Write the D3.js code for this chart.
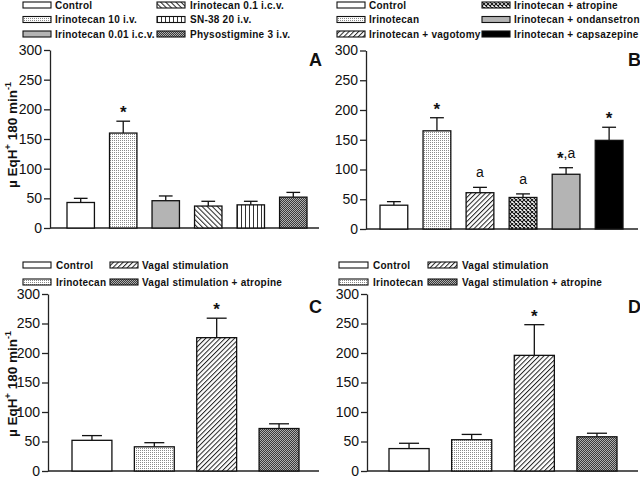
<!DOCTYPE html>
<html><head><meta charset="utf-8">
<script src="https://cdn.jsdelivr.net/npm/d3@7"></script>
<style>
body{margin:0;background:#fff;}
svg{display:block;font-family:"Liberation Sans",Arial,sans-serif;}
</style></head><body>
<svg id="chart" width="640" height="480"></svg>
<script>
// ---------- data ----------
const yTicks = [0, 50, 100, 150, 200, 250, 300];

const catsA = ["Control", "Irinotecan 10 i.v.", "Irinotecan 0.01 i.c.v.", "Irinotecan 0.1 i.c.v.", "SN-38 20 i.v.", "Physostigmine 3 i.v."];
const meanA = [43, 160, 46, 37, 39, 52];
const semA  = [7, 20, 8, 8, 6, 8];
const markA = ["", "*", "", "", "", ""];
const patA  = ["white", "dots", "gray", "back", "vert", "check"];

const catsB = ["Control", "Irinotecan", "Irinotecan + vagotomy", "Irinotecan + atropine", "Irinotecan + ondansetron", "Irinotecan + capsazepine"];
const meanB = [40, 165, 61, 53, 92, 149];
const semB  = [6, 22, 9, 6, 11, 22];
const markB = ["", "*", "a", "a", "*,a", "*"];
const patB  = ["white", "dots", "fwd", "xhatch", "gray", "black"];

const catsC = ["Control", "Irinotecan", "Vagal stimulation", "Vagal stimulation + atropine"];
const meanC = [52, 41, 226, 72];
const semC  = [8, 7, 33, 8];
const markC = ["", "", "*", ""];
const patC  = ["white", "dots", "fwd", "check"];

const catsD = ["Control", "Irinotecan", "Vagal stimulation", "Vagal stimulation + atropine"];
const meanD = [38, 53, 196, 58];
const semD  = [9, 9, 52, 6];
const markD = ["", "", "*", ""];
const patD  = ["white", "dots", "fwd", "check"];

// ---------- patterns ----------
const svg = d3.select("#chart");
const defs = svg.append("defs");
function pat(id, w, h, build, transform) {
  const p = defs.append("pattern").attr("id", id).attr("patternUnits", "userSpaceOnUse")
    .attr("width", w).attr("height", h);
  if (transform) p.attr("patternTransform", transform);
  build(p);
}
pat("p-dots", 2, 2, p => {
  p.append("rect").attr("width", 2).attr("height", 2).attr("fill", "#fff");
  p.append("rect").attr("width", 1).attr("height", 1).attr("fill", "#8a8a8a");
});
pat("p-back", 3.6, 3.6, p => {
  p.append("rect").attr("width", 3.6).attr("height", 3.6).attr("fill", "#fff");
  p.append("line").attr("x1", 0.5).attr("y1", 0).attr("x2", 0.5).attr("y2", 3.6).attr("stroke", "#222").attr("stroke-width", 1);
}, "rotate(-45)");
pat("p-fwd", 3.4, 3.4, p => {
  p.append("rect").attr("width", 3.4).attr("height", 3.4).attr("fill", "#fff");
  p.append("line").attr("x1", 0.5).attr("y1", 0).attr("x2", 0.5).attr("y2", 3.4).attr("stroke", "#222").attr("stroke-width", 1);
}, "rotate(45)");
pat("p-vert", 4, 4, p => {
  p.append("rect").attr("width", 4).attr("height", 4).attr("fill", "#fff");
  p.append("rect").attr("x", 1).attr("width", 1).attr("height", 4).attr("fill", "#333");
});
pat("p-check", 2, 2, p => {
  p.append("rect").attr("width", 2).attr("height", 2).attr("fill", "#3a3a3a");
  p.append("rect").attr("width", 1).attr("height", 1).attr("fill", "#b0b0b0");
  p.append("rect").attr("x", 1).attr("y", 1).attr("width", 1).attr("height", 1).attr("fill", "#b0b0b0");
});
pat("p-xhatch", 4, 4, p => {
  p.append("rect").attr("width", 4).attr("height", 4).attr("fill", "#fff");
  p.append("path").attr("d", "M0,0L4,4M4,0L0,4").attr("stroke", "#111").attr("stroke-width", 1.1);
});
const fills = {
  white: "#fff", gray: "#b4b4b4", black: "#000",
  dots: "url(#p-dots)", back: "url(#p-back)", fwd: "url(#p-fwd)",
  vert: "url(#p-vert)", check: "url(#p-check)", xhatch: "url(#p-xhatch)"
};

// ---------- panel ----------
function panel(cfg) {
  const g = svg.append("g");
  const x = d3.scaleBand().domain(cfg.cats).range(cfg.xr).paddingInner(cfg.pad).paddingOuter(0);
  const y = d3.scaleLinear().domain([0, 300]).range(cfg.yr);

  // x baseline
  g.append("line").attr("x1", cfg.ax).attr("x2", cfg.axEnd)
    .attr("y1", y(0)).attr("y2", y(0)).attr("stroke", "#222").attr("stroke-width", 1.3);

  // y axis
  const ya = g.append("g").attr("transform", `translate(${cfg.ax},0)`)
    .call(d3.axisLeft(y).tickValues(yTicks).tickSize(6).tickSizeOuter(0).tickPadding(2));
  ya.selectAll("path,line").attr("stroke", "#222").attr("stroke-width", 1.3);
  ya.selectAll("text").attr("font-size", 14).attr("fill", "#111")
    .attr("font-family", "'Liberation Sans',Arial,sans-serif");

  const data = cfg.cats.map((c, i) => ({ c, m: cfg.mean[i], s: cfg.sem[i], k: cfg.mark[i], p: cfg.pat[i] }));

  // error bars
  const eb = g.selectAll(".eb").data(data).enter().append("g");
  eb.append("line").attr("x1", d => x(d.c) + x.bandwidth() / 2).attr("x2", d => x(d.c) + x.bandwidth() / 2)
    .attr("y1", d => y(d.m)).attr("y2", d => y(d.m + d.s)).attr("stroke", "#111").attr("stroke-width", 1.3);
  eb.append("line").attr("x1", d => x(d.c) + x.bandwidth() / 4).attr("x2", d => x(d.c) + x.bandwidth() * 3 / 4)
    .attr("y1", d => y(d.m + d.s)).attr("y2", d => y(d.m + d.s)).attr("stroke", "#111").attr("stroke-width", 1.3);

  // bars
  g.selectAll(".bar").data(data).enter().append("rect")
    .attr("x", d => x(d.c)).attr("width", x.bandwidth())
    .attr("y", d => y(d.m)).attr("height", d => y(0) - y(d.m))
    .attr("fill", d => fills[d.p]).attr("stroke", "#111").attr("stroke-width", 1.3);

  // significance marks
  data.forEach(d => {
    if (!d.k) return;
    const cx = x(d.c) + x.bandwidth() / 2;
    const top = y(d.m + d.s);
    const t = g.append("text").attr("x", cx).attr("text-anchor", "middle").attr("fill", "#111");
    if (d.k === "*") {
      t.attr("y", top - 3).attr("font-size", 17).attr("font-weight", "bold").text("*");
    } else if (d.k === "a") {
      t.attr("y", top - 10).attr("font-size", 14).text("a");
    } else {
      t.attr("y", top - 10).attr("font-size", 14);
      t.append("tspan").attr("font-size", 17).attr("font-weight", "bold").attr("dy", 6).text("*");
      t.append("tspan").attr("dy", -6).text(",a");
    }
  });

  // panel letter
  g.append("text").attr("x", cfg.lx).attr("y", cfg.ly).attr("font-size", 18).attr("font-weight", "bold")
    .attr("fill", "#111").text(cfg.letter);

  // legend
  cfg.cats.forEach((c, i) => {
    const col = Math.floor(i / cfg.rows), row = i % cfg.rows;
    const yy = cfg.legY[row];
    g.append("rect").attr("x", cfg.sw[col]).attr("y", yy - 3).attr("width", cfg.swW).attr("height", 6)
      .attr("fill", fills[cfg.pat[i]]).attr("stroke", "#111").attr("stroke-width", 1.1);
    g.append("text").attr("x", cfg.tx[col]).attr("y", yy).attr("dy", "0.36em")
      .attr("font-size", 10).attr("font-weight", "bold").attr("letter-spacing", 0.25)
      .attr("fill", "#111").text(c);
  });

  // y label
  if (cfg.ylab) {
    const t = g.append("text").attr("transform", `translate(${cfg.ylab[0]},${cfg.ylab[1]}) rotate(-90)`)
      .attr("text-anchor", "middle").attr("font-size", 13.5).attr("font-weight", "bold").attr("fill", "#111");
    t.append("tspan").text("\u00b5 EqH");
    t.append("tspan").attr("font-size", 9).attr("dy", -6).text("+");
    t.append("tspan").attr("dy", 6).text(" 180 min");
    t.append("tspan").attr("font-size", 9).attr("dy", -6).text("-1");
  }
}

panel({ cats: catsA, mean: meanA, sem: semA, mark: markA, pat: patA,
  xr: [67, 307], pad: 0.355, yr: [228, 50], ax: 50, axEnd: 319,
  letter: "A", lx: 309, ly: 66, rows: 3, legY: [5, 19.5, 34], sw: [23, 157], tx: [55, 190], swW: 28,
  ylab: [17, 135] });

panel({ cats: catsB, mean: meanB, sem: semB, mark: markB, pat: patB,
  xr: [380, 623], pad: 0.355, yr: [229, 50.5], ax: 366, axEnd: 638,
  letter: "B", lx: 628, ly: 66, rows: 3, legY: [5, 19.5, 34], sw: [337, 482], tx: [369, 514], swW: 28 });

panel({ cats: catsC, mean: meanC, sem: semC, mark: markC, pat: patC,
  xr: [72, 299], pad: 0.36, yr: [471, 294], ax: 48, axEnd: 319,
  letter: "C", lx: 309, ly: 313, rows: 2, legY: [265, 282], sw: [23, 110], tx: [56, 142], swW: 28,
  ylab: [17, 384] });

panel({ cats: catsD, mean: meanD, sem: semD, mark: markD, pat: patD,
  xr: [389, 617], pad: 0.36, yr: [471, 294], ax: 367, axEnd: 638,
  letter: "D", lx: 628, ly: 313, rows: 2, legY: [265, 282], sw: [339, 428], tx: [373, 462], swW: 29 });
</script>
</body></html>
